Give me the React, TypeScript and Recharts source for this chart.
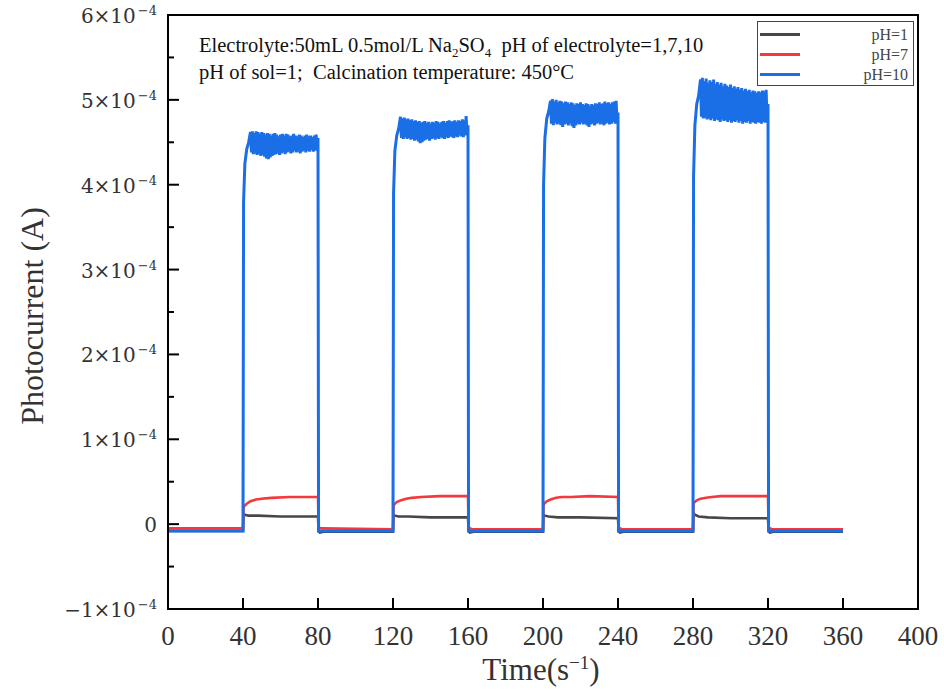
import React from "react";
import { LineChart, Line, XAxis, YAxis, ReferenceArea } from "recharts";

// currents are in units of 1e-4 A
const xTicks = [0, 40, 80, 120, 160, 200, 240, 280, 320, 360, 400];
const yTicks = [-1, -0.5, 0, 0.5, 1, 1.5, 2, 2.5, 3, 3.5, 4, 4.5, 5, 5.5, 6];
const lightOn = [40, 120, 200, 280];
const pulseLength = 40;
const runEnd = 360;

const seriesNames = ["pH=1", "pH=7", "pH=10"];
const seriesColors = ["#474747", "#f5383c", "#1a6ee6"];

// pH=1 (black), seconds after light on
const blackOffsets = [0, 0.3, 1, 3, 8, 20, 40, 40.3, 41, 43];
const blackPulses = [
  [-0.08, 0.12, 0.11, 0.1, 0.1, 0.09, 0.09, -0.08, -0.1, -0.09],
  [-0.09, 0.11, 0.1, 0.09, 0.09, 0.08, 0.08, -0.08, -0.1, -0.09],
  [-0.09, 0.11, 0.1, 0.09, 0.08, 0.08, 0.07, -0.08, -0.1, -0.09],
  [-0.09, 0.13, 0.11, 0.09, 0.08, 0.07, 0.07, -0.08, -0.1, -0.09],
];
const blackStart = -0.08;
const blackEnd = -0.09;

// pH=7 (red)
const redOffsets = [0, 0.3, 1, 2, 4, 7, 10, 15, 25, 40, 40.3, 42];
const redPulses = [
  [-0.05, 0.2, 0.22, 0.24, 0.27, 0.29, 0.3, 0.31, 0.32, 0.32, -0.04, -0.05],
  [-0.06, 0.22, 0.24, 0.26, 0.28, 0.3, 0.31, 0.32, 0.33, 0.33, -0.04, -0.06],
  [-0.06, 0.23, 0.25, 0.27, 0.29, 0.31, 0.32, 0.32, 0.33, 0.32, -0.04, -0.06],
  [-0.06, 0.25, 0.26, 0.28, 0.3, 0.31, 0.32, 0.33, 0.33, 0.33, -0.04, -0.06],
];
const redStart = -0.05;
const redEnd = -0.06;

// pH=10 (blue): fast rise, then a noisy plateau.
// upper envelope read each second from +4 s, lower envelope half a second later
const blueDark = -0.08;
const blueRiseOffsets = [0.3, 1, 2, 3];
const blueRise = [
  [3.8, 4.25, 4.42, 4.5],
  [3.9, 4.4, 4.58, 4.66],
  [4.0, 4.55, 4.78, 4.86],
  [4.1, 4.7, 4.95, 5.05],
];
const bluePlateauStart = 4;
const blueUpper = [
  [4.62, 4.63, 4.61, 4.63, 4.62, 4.6, 4.62, 4.61, 4.59, 4.61, 4.6, 4.58, 4.6, 4.61, 4.59, 4.57, 4.59, 4.6,
    4.58, 4.6, 4.59, 4.57, 4.58, 4.6, 4.58, 4.57, 4.59, 4.58, 4.56, 4.58, 4.59, 4.57, 4.58, 4.56, 4.58, 4.59],
  [4.8, 4.78, 4.79, 4.77, 4.78, 4.76, 4.77, 4.75, 4.76, 4.74, 4.75, 4.73, 4.74, 4.75, 4.73, 4.74, 4.72, 4.74,
    4.73, 4.75, 4.74, 4.72, 4.74, 4.75, 4.73, 4.75, 4.76, 4.74, 4.75, 4.76, 4.74, 4.76, 4.75, 4.77, 4.76, 4.81],
  [4.99, 5.01, 4.98, 5.0, 4.97, 4.99, 4.98, 4.96, 4.98, 4.97, 4.95, 4.97, 4.96, 4.94, 4.96, 4.95, 4.97, 4.95,
    4.94, 4.96, 4.95, 4.93, 4.95, 4.94, 4.96, 4.95, 4.97, 4.95, 4.96, 4.98, 4.96, 4.97, 4.95, 4.97, 4.98, 4.99],
  [5.24, 5.26, 5.22, 5.25, 5.2, 5.23, 5.21, 5.24, 5.19, 5.21, 5.18, 5.2, 5.16, 5.19, 5.17, 5.15, 5.18, 5.14,
    5.16, 5.13, 5.15, 5.12, 5.14, 5.11, 5.13, 5.1, 5.12, 5.09, 5.11, 5.1, 5.08, 5.1, 5.09, 5.11, 5.1, 5.12],
];
const blueLower = [
  [4.38, 4.36, 4.37, 4.35, 4.36, 4.34, 4.35, 4.33, 4.31, 4.3, 4.32, 4.34, 4.35, 4.36, 4.37, 4.35, 4.37, 4.38,
    4.36, 4.38, 4.39, 4.37, 4.38, 4.4, 4.38, 4.39, 4.37, 4.39, 4.4, 4.38, 4.4, 4.39, 4.41, 4.39, 4.4, 4.41],
  [4.55, 4.54, 4.56, 4.54, 4.55, 4.53, 4.54, 4.52, 4.53, 4.51, 4.49, 4.5, 4.52, 4.53, 4.54, 4.52, 4.54, 4.55,
    4.53, 4.55, 4.54, 4.56, 4.55, 4.54, 4.56, 4.55, 4.57, 4.56, 4.55, 4.57, 4.56, 4.58, 4.57, 4.56, 4.58, 4.59],
  [4.72, 4.7, 4.73, 4.71, 4.72, 4.7, 4.68, 4.71, 4.72, 4.7, 4.72, 4.69, 4.67, 4.7, 4.72, 4.71, 4.73, 4.71,
    4.72, 4.7, 4.68, 4.71, 4.72, 4.7, 4.72, 4.73, 4.71, 4.72, 4.7, 4.72, 4.73, 4.71, 4.72, 4.74, 4.72, 4.73],
  [4.8, 4.78, 4.79, 4.77, 4.78, 4.76, 4.78, 4.75, 4.77, 4.76, 4.74, 4.77, 4.75, 4.76, 4.74, 4.76, 4.73, 4.75,
    4.74, 4.76, 4.73, 4.75, 4.72, 4.74, 4.73, 4.75, 4.72, 4.74, 4.73, 4.72, 4.74, 4.73, 4.72, 4.74, 4.73, 4.75],
];
const blueLastLit = [4.55, 4.7, 4.85, 4.95];

function pulsedSeries(start: number, end: number, offsets: number[], pulses: number[][]) {
  const pts = [{ t: 0, v: start }];
  pulses.forEach((vals, k) => {
    vals.forEach((v, i) => pts.push({ t: lightOn[k] + offsets[i], v }));
  });
  pts.push({ t: runEnd, v: end });
  return pts;
}

const blackData = pulsedSeries(blackStart, blackEnd, blackOffsets, blackPulses);
const redData = pulsedSeries(redStart, redEnd, redOffsets, redPulses);

const blueData: { t: number; v: number }[] = [{ t: 0, v: blueDark }];
lightOn.forEach((on, k) => {
  blueData.push({ t: on, v: blueDark });
  blueRise[k].forEach((v, i) => blueData.push({ t: on + blueRiseOffsets[i], v }));
  blueUpper[k].forEach((v, i) => {
    const t = on + bluePlateauStart + i;
    blueData.push({ t, v });
    blueData.push({ t: t + 0.5, v: blueLower[k][i] });
  });
  blueData.push({ t: on + pulseLength, v: blueLastLit[k] });
  blueData.push({ t: on + pulseLength + 0.3, v: blueDark });
});
blueData.push({ t: runEnd, v: blueDark });

const allData = [blackData, redData, blueData];

const serif = "'Liberation Serif', 'Times New Roman', serif";

const XTick = ({ x, y, payload }: any) => (
  <g>
    <line x1={x} y1={y} x2={x} y2={y - 11} stroke="#000" strokeWidth={2} />
    <text x={x} y={y + 36} textAnchor="middle" fontFamily={serif} fontSize={27} fill="#333">
      {payload.value}
    </text>
  </g>
);

const YTick = ({ x, y, payload }: any) => {
  const v = payload.value;
  const major = Number.isInteger(v);
  return (
    <g>
      <line x1={x} y1={y} x2={x + (major ? 11 : 6)} y2={y} stroke="#000" strokeWidth={2} />
      {major && (
        <text x={x - 11} y={y + 8} textAnchor="end" fontFamily="'DejaVu Serif', serif" fontSize={20} fill="#333">
          {v === 0 ? (
            "0"
          ) : (
            <>
              <tspan>{(v < 0 ? "−" + -v : v) + "×10"}</tspan>
              <tspan dx={2} dy={-8} fontSize={13}>−4</tspan>
            </>
          )}
        </text>
      )}
    </g>
  );
};

export default function App() {
  return (
    <div style={{ position: "absolute", left: 0, top: 0, width: 944, height: 690, background: "#fff" }}>
      <LineChart width={944} height={690} margin={{ top: 15, right: 26, bottom: 0, left: 0 }}>
        <XAxis
          type="number"
          dataKey="t"
          domain={[0, 400]}
          ticks={xTicks}
          interval={0}
          height={81}
          tickSize={0}
          tickMargin={0}
          tickLine={false}
          tick={<XTick />}
          axisLine={{ stroke: "#000", strokeWidth: 2 }}
          allowDuplicatedCategory={false}
        />
        <YAxis
          type="number"
          domain={[-1, 6]}
          ticks={yTicks}
          interval={0}
          width={168}
          tickSize={0}
          tickMargin={0}
          tickLine={false}
          tick={<YTick />}
          axisLine={{ stroke: "#000", strokeWidth: 2 }}
        />
        <ReferenceArea x1={0} x2={400} y1={-1} y2={6} fill="none" stroke="#000" strokeWidth={2} />
        {allData.map((d, i) => (
          <Line
            key={seriesNames[i]}
            data={d}
            dataKey="v"
            name={seriesNames[i]}
            type="linear"
            stroke={seriesColors[i]}
            strokeWidth={i === 2 ? 3 : 2.6}
            dot={false}
            activeDot={false}
            isAnimationActive={false}
          />
        ))}
      </LineChart>

      <div
        style={{
          position: "absolute",
          left: 199,
          top: 32,
          fontFamily: serif,
          fontSize: 20.5,
          lineHeight: "27px",
          color: "#111",
          whiteSpace: "pre",
        }}
      >
        <div>
          Electrolyte:50mL 0.5mol/L Na<sub style={{ fontSize: 13, lineHeight: 0 }}>2</sub>SO
          <sub style={{ fontSize: 13, lineHeight: 0 }}>4</sub>
          {"  pH of electrolyte=1,7,10"}
        </div>
        <div>{"pH of sol=1;  Calcination temperature: 450°C"}</div>
      </div>

      <div
        style={{
          position: "absolute",
          left: 757,
          top: 21,
          width: 155,
          height: 63,
          border: "1px solid #444",
          background: "#fff",
          fontFamily: serif,
          fontSize: 16,
          color: "#444",
        }}
      >
        {seriesNames.map((n, i) => (
          <div key={n} style={{ position: "absolute", left: 2, right: 5, top: 3 + i * 20, height: 20 }}>
            <div style={{ position: "absolute", left: 0, top: 8, width: 40, height: 3, background: seriesColors[i] }} />
            <div style={{ position: "absolute", right: 0, top: 1, lineHeight: "18px" }}>{n}</div>
          </div>
        ))}
      </div>

      <div
        style={{
          position: "absolute",
          left: 32,
          top: 316,
          transform: "translate(-50%, -50%) rotate(-90deg)",
          fontFamily: serif,
          fontSize: 32,
          color: "#333",
          whiteSpace: "nowrap",
        }}
      >
        Photocurrent (A)
      </div>

      <div
        style={{
          position: "absolute",
          left: 541,
          top: 652,
          transform: "translateX(-50%)",
          fontFamily: serif,
          fontSize: 31,
          lineHeight: "36px",
          color: "#333",
          whiteSpace: "nowrap",
        }}
      >
        Time(s<sup style={{ fontSize: 19, lineHeight: 0 }}>−1</sup>)
      </div>
    </div>
  );
}
